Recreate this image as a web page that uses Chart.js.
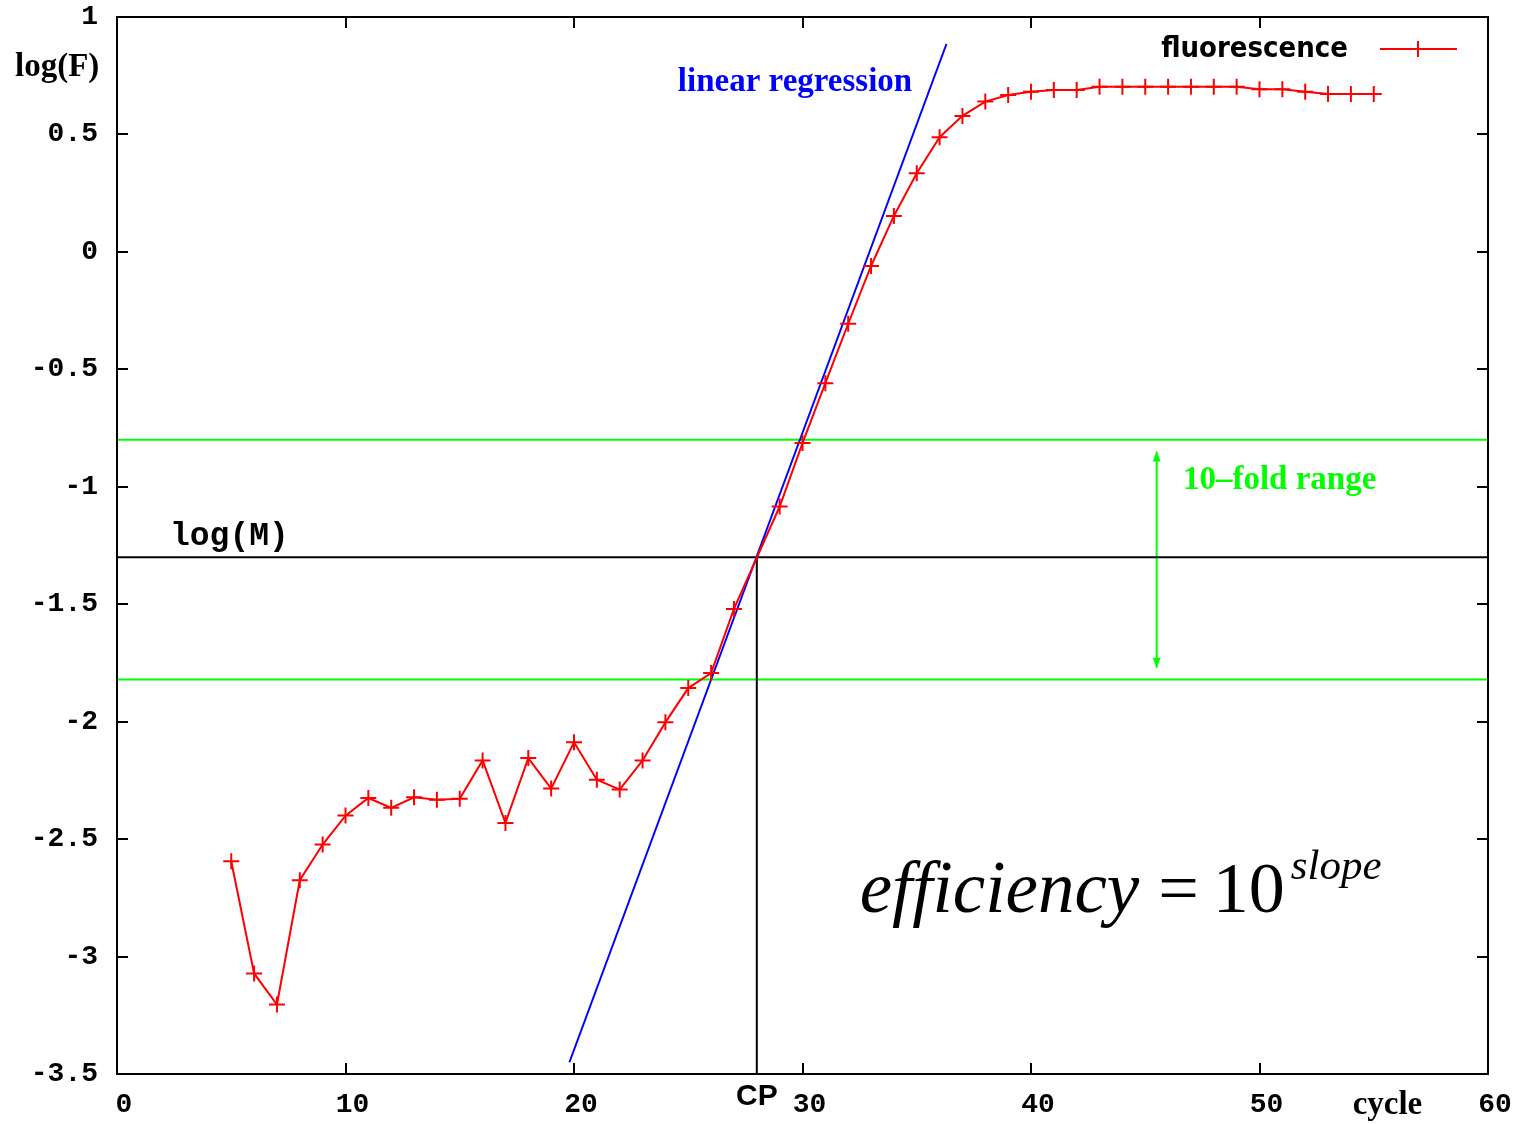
<!DOCTYPE html>
<html>
<head>
<meta charset="utf-8">
<title>PCR efficiency</title>
<script src="https://cdn.jsdelivr.net/npm/chart.js@4/dist/chart.umd.min.js"></script>
<style>
  html, body { margin: 0; padding: 0; background: #fff; }
  #chart { display: block; }
</style>
</head>
<body>
<canvas id="chart" width="1519" height="1124"></canvas>
<script>
// amplification curve (log of fluorescence per cycle)
const cycles = [5, 6, 7, 8, 9, 10, 11, 12, 13, 14, 15, 16, 17, 18, 19, 20, 21, 22, 23, 24,
  25, 26, 27, 29, 30, 31, 32, 33, 34, 35, 36, 37, 38, 39, 40, 41, 42, 43, 44, 45,
  46, 47, 48, 49, 50, 51, 52, 53, 54, 55];
const logF = [-2.594, -3.072, -3.204, -2.675, -2.523, -2.40, -2.325, -2.367, -2.322, -2.332,
  -2.328, -2.165, -2.431, -2.155, -2.285, -2.088, -2.247, -2.289, -2.165, -2.003,
  -1.857, -1.793, -1.52, -1.084, -0.814, -0.559, -0.306, -0.06, 0.153, 0.335,
  0.488, 0.579, 0.64, 0.668, 0.682, 0.689, 0.689, 0.703, 0.703, 0.703,
  0.703, 0.703, 0.703, 0.703, 0.692, 0.692, 0.682, 0.672, 0.672, 0.672];

// regression line end points
const regX = [19.8, 36.3];
const regY = [-3.45, 0.885];

// 10-fold window and crossing point
const windowTop = -0.8;
const windowBottom = -1.82;
const logM = -1.3;
const cp = 28;
const arrowX = 45.5;
const arrowY = [-0.85, -1.77];

const xTicks = [0, 10, 20, 30, 40, 50, 60];
const yTicks = [1, 0.5, 0, -0.5, -1, -1.5, -2, -2.5, -3, -3.5];

const RED = '#ff0000', BLUE = '#0000ff', GREEN = '#00ff00', BLACK = '#000000';
const TICK = 11;

const pts = (xs, ys) => xs.map((v, i) => ({ x: v, y: ys[i] }));

const decor = {
  id: 'decor',
  afterDraw(chart) {
    const { ctx, chartArea: a, scales: { x, y } } = chart;
    ctx.save();

    // frame and mirrored inside ticks
    ctx.strokeStyle = BLACK;
    ctx.lineWidth = 2;
    ctx.beginPath();
    x.ticks.forEach(t => {
      const px = Math.round(x.getPixelForValue(t.value));
      ctx.moveTo(px, a.bottom); ctx.lineTo(px, a.bottom - TICK);
      ctx.moveTo(px, a.top); ctx.lineTo(px, a.top + TICK);
    });
    y.ticks.forEach(t => {
      const py = Math.round(y.getPixelForValue(t.value));
      ctx.moveTo(a.left, py); ctx.lineTo(a.left + TICK, py);
      ctx.moveTo(a.right, py); ctx.lineTo(a.right - TICK, py);
    });
    ctx.stroke();
    ctx.strokeRect(a.left, a.top, a.right - a.left, a.bottom - a.top);

    // arrow heads of the 10-fold range marker
    ctx.fillStyle = GREEN;
    const ax = x.getPixelForValue(arrowX);
    const up = y.getPixelForValue(arrowY[0]);
    const dn = y.getPixelForValue(arrowY[1]);
    ctx.beginPath();
    ctx.moveTo(ax, up); ctx.lineTo(ax - 4, up + 10); ctx.lineTo(ax + 4, up + 10); ctx.closePath();
    ctx.moveTo(ax, dn); ctx.lineTo(ax - 4, dn - 10); ctx.lineTo(ax + 4, dn - 10); ctx.closePath();
    ctx.fill();

    // labels
    ctx.textBaseline = 'middle';
    ctx.fillStyle = BLUE;
    ctx.font = 'bold 33px "Liberation Serif", serif';
    ctx.textAlign = 'right';
    ctx.fillText('linear regression', x.getPixelForValue(34.8), y.getPixelForValue(0.723));

    ctx.fillStyle = GREEN;
    ctx.textAlign = 'left';
    ctx.fillText('10\u2013fold range', x.getPixelForValue(46.65), y.getPixelForValue(-0.975));

    ctx.fillStyle = BLACK;
    ctx.fillText('log(F)', a.left - 102, a.top + 50);

    ctx.textAlign = 'center';
    ctx.fillText('cycle', x.getPixelForValue(55.6), a.bottom + 31);

    ctx.textAlign = 'left';
    ctx.font = 'bold 33px "Liberation Mono", monospace';
    ctx.fillText('log(M)', x.getPixelForValue(2.32), y.getPixelForValue(-1.213));

    ctx.textAlign = 'center';
    ctx.font = 'bold 30px "Liberation Sans", sans-serif';
    ctx.fillText('CP', x.getPixelForValue(cp), a.bottom + 23);

    // legend: text on the left, line sample on the right
    ctx.textAlign = 'right';
    ctx.font = 'bold 29px "DejaVu Sans Condensed", "Liberation Sans", sans-serif';
    const ly = a.top + 32;
    ctx.fillText('fluorescence', a.right - 140, ly);
    ctx.strokeStyle = RED;
    ctx.lineWidth = 2;
    ctx.beginPath();
    ctx.moveTo(a.right - 108, ly); ctx.lineTo(a.right - 31, ly);
    ctx.moveTo(a.right - 70, ly - 8); ctx.lineTo(a.right - 70, ly + 8);
    ctx.stroke();

    // efficiency = 10^slope
    ctx.fillStyle = BLACK;
    ctx.textAlign = 'left';
    ctx.textBaseline = 'alphabetic';
    let fx = x.getPixelForValue(32.5);
    const fy = y.getPixelForValue(-2.81);
    ctx.font = 'italic 73px "Liberation Serif", serif';
    ctx.fillText('efficiency', fx, fy);
    fx += ctx.measureText('efficiency').width + 19;
    ctx.font = '72px "Liberation Serif", serif';
    ctx.fillText('=', fx, fy);
    fx += ctx.measureText('=').width + 14;
    ctx.fillText('10', fx, fy);
    fx += ctx.measureText('10').width + 6;
    ctx.font = 'italic 43px "Liberation Serif", serif';
    ctx.fillText('slope', fx, fy - 33);

    ctx.restore();
  }
};

new Chart(document.getElementById('chart'), {
  type: 'scatter',
  data: {
    datasets: [
      {
        label: 'fluorescence',
        data: pts(cycles, logF),
        showLine: true,
        borderColor: RED,
        borderWidth: 2,
        pointStyle: 'cross',
        pointRadius: 8,
        pointBorderWidth: 2,
        pointBorderColor: RED
      },
      {
        label: 'linear regression',
        data: pts(regX, regY),
        showLine: true,
        borderColor: BLUE,
        borderWidth: 2,
        pointRadius: 0
      },
      {
        label: 'log(M)',
        data: [{ x: 0, y: logM }, { x: 60, y: logM }],
        showLine: true,
        borderColor: BLACK,
        borderWidth: 2,
        pointRadius: 0
      },
      {
        label: 'CP',
        data: [{ x: cp, y: logM }, { x: cp, y: -3.5 }],
        showLine: true,
        borderColor: BLACK,
        borderWidth: 2,
        pointRadius: 0
      },
      {
        label: 'upper',
        data: [{ x: 0, y: windowTop }, { x: 60, y: windowTop }],
        showLine: true,
        borderColor: GREEN,
        borderWidth: 2,
        pointRadius: 0
      },
      {
        label: 'lower',
        data: [{ x: 0, y: windowBottom }, { x: 60, y: windowBottom }],
        showLine: true,
        borderColor: GREEN,
        borderWidth: 2,
        pointRadius: 0
      },
      {
        label: 'range',
        data: [{ x: arrowX, y: arrowY[0] }, { x: arrowX, y: arrowY[1] }],
        showLine: true,
        borderColor: GREEN,
        borderWidth: 2,
        pointRadius: 0
      }
    ]
  },
  options: {
    responsive: false,
    animation: false,
    events: [],
    layout: { padding: { top: 17, right: 31, left: 0, bottom: 0 } },
    plugins: {
      legend: { display: false },
      tooltip: { enabled: false }
    },
    scales: {
      x: {
        type: 'linear',
        min: 0,
        max: 60,
        afterBuildTicks: s => { s.ticks = xTicks.map(v => ({ value: v })); },
        afterFit: s => { s.height = 50; s.paddingLeft = 0; s.paddingRight = 0; },
        grid: { display: false, drawTicks: false },
        border: { display: false },
        ticks: {
          color: BLACK,
          padding: 14,
          labelOffset: 7,
          maxRotation: 0,
          autoSkip: false,
          font: { family: '"Liberation Mono", monospace', size: 28, weight: 'bold' },
          callback: v => String(v)
        }
      },
      y: {
        type: 'linear',
        min: -3.5,
        max: 1,
        afterBuildTicks: s => { s.ticks = yTicks.map(v => ({ value: v })); },
        afterFit: s => { s.width = 117; s.paddingTop = 0; s.paddingBottom = 0; },
        grid: { display: false, drawTicks: false },
        border: { display: false },
        ticks: {
          color: BLACK,
          padding: 19,
          autoSkip: false,
          font: { family: '"Liberation Mono", monospace', size: 28, weight: 'bold' },
          callback: v => String(v)
        }
      }
    }
  },
  plugins: [decor]
});
</script>
</body>
</html>
